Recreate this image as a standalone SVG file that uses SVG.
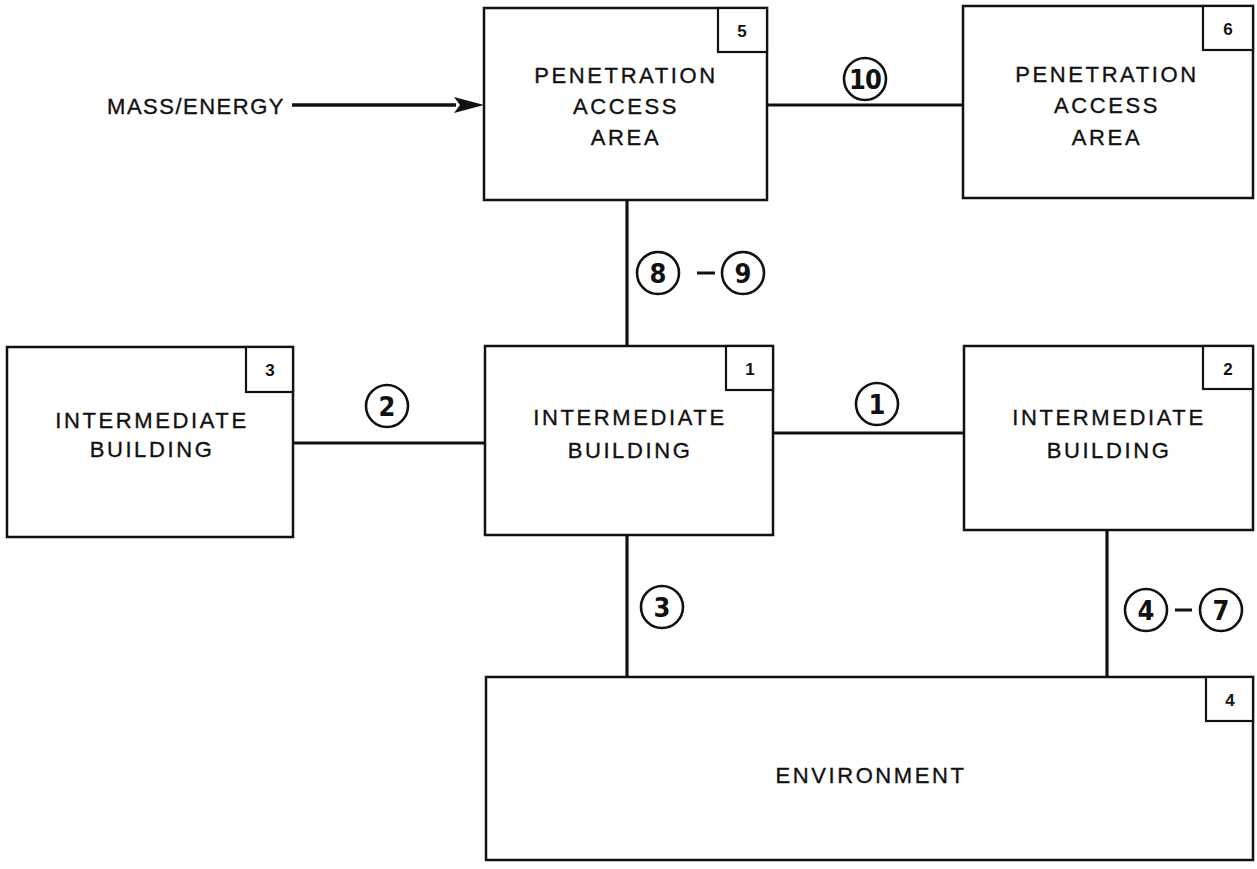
<svg xmlns="http://www.w3.org/2000/svg" width="1257" height="869" viewBox="0 0 1257 869">
<style>
.box{fill:#fff;stroke:#111;stroke-width:2.5}
.tag{fill:#fff;stroke:#111;stroke-width:2.2}
.lbl{font-family:"Liberation Sans",Arial,sans-serif;font-size:22px;letter-spacing:2.6px;fill:#111;stroke:#111;stroke-width:0.35;text-anchor:middle}
.tn{font-family:"Liberation Sans",Arial,sans-serif;font-size:17px;font-weight:bold;fill:#111;text-anchor:middle}
.conn{stroke:#111;stroke-width:3.2;fill:none}
.cir{fill:#fff;stroke:#111;stroke-width:2.6}
.cn{font-family:"DejaVu Sans Condensed","DejaVu Sans",sans-serif;font-weight:bold;font-size:27px;fill:#111;text-anchor:middle}
</style>
<rect width="1257" height="869" fill="#fff"/>
<g id="connectors">
<line class="conn" x1="767" y1="105" x2="963" y2="105"/>
<line class="conn" x1="627" y1="200" x2="627" y2="346"/>
<line class="conn" x1="293" y1="443" x2="485" y2="443"/>
<line class="conn" x1="773" y1="433" x2="964" y2="433"/>
<line class="conn" x1="627" y1="535" x2="627" y2="677"/>
<line class="conn" x1="1107" y1="530" x2="1107" y2="677"/>
<line x1="292" y1="105" x2="456" y2="105" stroke="#111" stroke-width="3.5"/>
<path d="M454,97 L484,105 L454,113 L460,105 Z" fill="#111"/>
<line x1="697" y1="273" x2="715" y2="273" stroke="#111" stroke-width="3"/>
<line x1="1175" y1="610" x2="1192" y2="610" stroke="#111" stroke-width="3"/>
</g>
<g id="input-label">
<text class="lbl" x="196" y="114" style="letter-spacing:1.5px">MASS/ENERGY</text>
</g>
<g id="node5">
<rect class="box" x="484" y="8" width="283" height="192"/>
<rect class="tag" x="718" y="8" width="49" height="44"/>
<text class="tn" x="742" y="37">5</text>
<text class="lbl" x="626" y="83">PENETRATION</text>
<text class="lbl" x="626" y="114">ACCESS</text>
<text class="lbl" x="626" y="145">AREA</text>
</g>
<g id="node6">
<rect class="box" x="963" y="6" width="290" height="192"/>
<rect class="tag" x="1203" y="6" width="50" height="44"/>
<text class="tn" x="1228" y="35">6</text>
<text class="lbl" x="1107" y="82">PENETRATION</text>
<text class="lbl" x="1107" y="113">ACCESS</text>
<text class="lbl" x="1107" y="145">AREA</text>
</g>
<g id="node3">
<rect class="box" x="7" y="347" width="286" height="190"/>
<rect class="tag" x="246" y="347" width="47" height="45"/>
<text class="tn" x="270" y="376">3</text>
<text class="lbl" x="152" y="428">INTERMEDIATE</text>
<text class="lbl" x="152" y="457">BUILDING</text>
</g>
<g id="node1">
<rect class="box" x="485" y="346" width="288" height="189"/>
<rect class="tag" x="726" y="346" width="47" height="44"/>
<text class="tn" x="750" y="375">1</text>
<text class="lbl" x="630" y="425">INTERMEDIATE</text>
<text class="lbl" x="630" y="458">BUILDING</text>
</g>
<g id="node2">
<rect class="box" x="964" y="346" width="289" height="184"/>
<rect class="tag" x="1203" y="346" width="50" height="43"/>
<text class="tn" x="1228" y="375">2</text>
<text class="lbl" x="1109" y="425">INTERMEDIATE</text>
<text class="lbl" x="1109" y="458">BUILDING</text>
</g>
<g id="node4">
<rect class="box" x="486" y="677" width="767" height="183"/>
<rect class="tag" x="1206" y="677" width="47" height="44"/>
<text class="tn" x="1230" y="706">4</text>
<text class="lbl" x="871" y="783">ENVIRONMENT</text>
</g>
<g id="labels">
<circle class="cir" cx="865" cy="79" r="21"/><text class="cn" x="865" y="89" style="letter-spacing:-1px">10</text>
<circle class="cir" cx="658" cy="273" r="21"/><text class="cn" x="658" y="283">8</text>
<circle class="cir" cx="743" cy="273" r="21"/><text class="cn" x="743" y="283">9</text>
<circle class="cir" cx="387" cy="406" r="21"/><text class="cn" x="387" y="416">2</text>
<circle class="cir" cx="877" cy="404" r="21"/><text class="cn" x="877" y="414">1</text>
<circle class="cir" cx="662" cy="607" r="21"/><text class="cn" x="662" y="617">3</text>
<circle class="cir" cx="1146" cy="610" r="21"/><text class="cn" x="1146" y="620">4</text>
<circle class="cir" cx="1221" cy="610" r="21"/><text class="cn" x="1221" y="620">7</text>
</g>
</svg>
